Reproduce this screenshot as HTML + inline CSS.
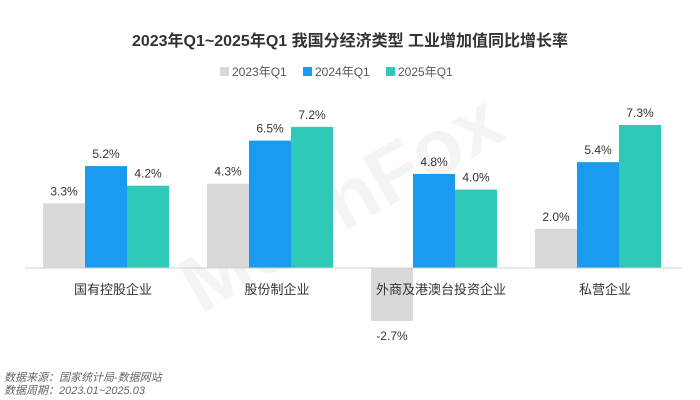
<!DOCTYPE html>
<html><head><meta charset="utf-8"><style>
body{margin:0;background:#fff;}
svg{display:block;font-family:"Liberation Sans","Noto Sans CJK SC",sans-serif;}
</style></head><body>
<svg id="c" width="700" height="400" viewBox="0 0 700 400">
<text x="350" y="46" text-anchor="middle" font-size="16" font-weight="bold" fill="#333">2023年Q1~2025年Q1 我国分经济类型 工业增加值同比增长率</text>
<text x="340" y="230" text-anchor="middle" font-size="80" font-weight="bold" fill="#000" opacity="0.04" transform="rotate(-30 340 200)">MoonFox</text>
<g id="legend"></g>
<g id="bars"></g>
<line x1="25" y1="268" x2="682" y2="268" stroke="#d0d0d0" stroke-width="1"/>
<text x="4" y="381" font-size="11" font-style="italic" fill="#666">数据来源：国家统计局-数据网站</text>
<text x="4" y="394" font-size="11" font-style="italic" fill="#666">数据周期：2023.01~2025.03</text>
</svg>
<script>
const categories=["国有控股企业","股份制企业","外商及港澳台投资企业","私营企业"];
const seriesNames=["2023年Q1","2024年Q1","2025年Q1"];
const s2023=[3.3,4.3,-2.7,2.0];
const s2024=[5.2,6.5,4.8,5.4];
const s2025=[4.2,7.2,4.0,7.3];
const series=[s2023,s2024,s2025];
const colors=["#d9d9d9","#1a9bf0","#2ec9b8"];
const NS="http://www.w3.org/2000/svg";
const svg=document.getElementById('c');
const bars=document.getElementById('bars');
const base=268, ppu=19.6;
const y=v=>base-v*ppu;
const xc=i=>106+i*164;
const bw=42;
function mk(t,a){const e=document.createElementNS(NS,t);for(const k in a)e.setAttribute(k,a[k]);return e;}
categories.forEach((c,i)=>{
  series.forEach((s,j)=>{
    const v=s[i];const x=xc(i)-63+j*bw;
    const r=mk('rect',{x:x,y:Math.min(y(v),base),width:bw,height:Math.abs(y(v)-base),fill:colors[j]});
    
    
    bars.appendChild(r);
    const t=mk('text',{x:x+bw/2,y:v>=0?y(v)-8:y(v)+19,'text-anchor':'middle','font-size':'12',fill:'#333'});
    t.textContent=v.toFixed(1)+'%';
    
    
    bars.appendChild(t);
  });
  const l=mk('text',{x:xc(i)+7,y:294,'text-anchor':'middle','font-size':'13',fill:'#333'});
  l.textContent=c;
  
  
  bars.appendChild(l);
});
const lg=document.getElementById('legend');
const lx=[220,303,386];
seriesNames.forEach((n,j)=>{
  const r=mk('rect',{x:lx[j],y:67,width:9,height:9,fill:colors[j]});
  
  
  lg.appendChild(r);
  const t=mk('text',{x:lx[j]+12,y:76,'font-size':'12',fill:'#555'});
  t.textContent=n;
  
  
  lg.appendChild(t);
});
</script>
</body></html>
